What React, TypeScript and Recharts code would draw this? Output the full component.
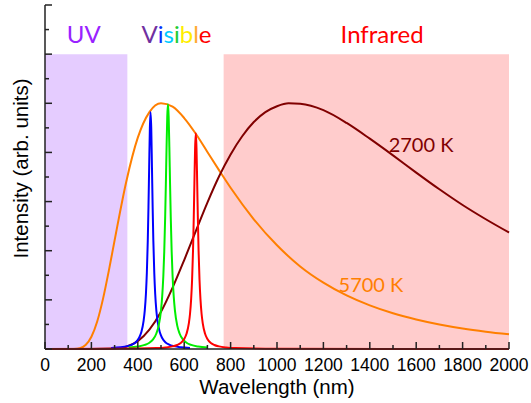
import React from 'react';
import { LineChart, Line, XAxis, YAxis, ReferenceArea, ReferenceDot } from 'recharts';

// ---- data ----
const wl5700 = [0, 100, 125, 150, 175, 200, 225, 250, 275, 300, 350, 400, 450, 500, 550, 600, 650, 700, 750, 800, 900, 1000, 1100, 1200, 1300, 1400, 1500, 1600, 1700, 1800, 1900, 2000];
const int5700 = [0, 0, 0.002, 0.016, 0.08, 0.25, 0.56, 1.02, 1.59, 2.21, 3.4, 4.3, 4.82, 5.0, 4.93, 4.7, 4.38, 4.01, 3.64, 3.28, 2.64, 2.11, 1.68, 1.35, 1.09, 0.887, 0.726, 0.6, 0.499, 0.417, 0.352, 0.298];

const wl2700 = [0, 200, 300, 350, 400, 450, 500, 550, 600, 650, 700, 750, 800, 850, 900, 950, 1000, 1050, 1100, 1200, 1300, 1400, 1500, 1600, 1700, 1800, 1900, 2000];
const int2700 = [0, 0, 0.008, 0.047, 0.16, 0.395, 0.76, 1.25, 1.81, 2.4, 2.98, 3.51, 3.96, 4.33, 4.62, 4.82, 4.94, 5.0, 4.99, 4.86, 4.6, 4.28, 3.94, 3.59, 3.25, 2.93, 2.64, 2.37];

const wlBlue = [285, 325, 355, 375, 390, 405, 415, 425, 430, 435, 439, 443, 446, 449, 452, 455, 458, 461, 464, 467, 471, 475, 480, 485, 495, 505, 520, 535, 555, 585, 625];
const intBlue = [0.02, 0.034, 0.058, 0.089, 0.134, 0.223, 0.339, 0.571, 0.78, 1.12, 1.55, 2.2, 2.89, 3.71, 4.49, 4.82, 4.49, 3.71, 2.89, 2.2, 1.55, 1.12, 0.78, 0.571, 0.339, 0.223, 0.134, 0.089, 0.058, 0.034, 0.02];

const wlGreen = [360, 400, 430, 450, 465, 480, 490, 500, 505, 510, 514, 518, 521, 524, 527, 530, 533, 536, 539, 542, 546, 550, 555, 560, 570, 580, 595, 610, 630, 660, 700];
const intGreen = [0.029, 0.049, 0.083, 0.128, 0.192, 0.315, 0.476, 0.787, 1.06, 1.48, 1.98, 2.69, 3.37, 4.11, 4.73, 4.98, 4.73, 4.11, 3.37, 2.69, 1.98, 1.48, 1.06, 0.787, 0.476, 0.315, 0.192, 0.128, 0.083, 0.049, 0.029];

const wlRed = [0, 300, 480, 520, 550, 570, 585, 600, 610, 620, 625, 630, 634, 638, 641, 644, 647, 650, 653, 656, 659, 662, 666, 670, 675, 680, 690, 700, 715, 730, 750, 780, 820, 1000, 2000];
const intRed = [0, 0.004, 0.018, 0.031, 0.053, 0.081, 0.122, 0.203, 0.309, 0.52, 0.712, 1.02, 1.41, 2.0, 2.63, 3.38, 4.09, 4.39, 4.09, 3.38, 2.63, 2.0, 1.41, 1.02, 0.712, 0.52, 0.309, 0.203, 0.122, 0.081, 0.053, 0.031, 0.018, 0.004, 0];

const uvRange = [0, 355];
const irRange = [770, 2000];
const bandTop = 6;

const xTicks = Array.from({ length: 21 }, (_, i) => i * 100);
const yTicks = Array.from({ length: 15 }, (_, i) => i * 0.5);

const zip = (xs: number[], ys: number[]) => xs.map((x, i) => ({ x, y: ys[i] }));

const AX = '#222';
const LABEL_FONT = 'Lato, "Open Sans", sans-serif';
const AXIS_FONT = '"Liberation Sans", Arial, sans-serif';

const BottomTick = (p: any) => {
  const v = p.payload.value;
  const major = v % 200 === 0;
  return (
    <g>
      <line x1={p.x} x2={p.x} y1={p.y} y2={p.y - (major ? 7 : 4)} stroke={AX} strokeWidth={1.5} />
      {major && (
        <text x={p.x} y={p.y + 21.7} textAnchor="middle" fontFamily={AXIS_FONT} fontSize={17.5} fill="#000">
          {v}
        </text>
      )}
    </g>
  );
};
const TopTick = (p: any) => {
  const v = p.payload.value;
  const major = v % 200 === 0;
  return <line x1={p.x} x2={p.x} y1={p.y} y2={p.y + (major ? 7 : 4)} stroke={AX} strokeWidth={1.5} />;
};
const LeftTick = (p: any) => {
  const v = p.payload.value;
  const major = Math.abs(v - Math.round(v)) < 1e-6;
  return <line x1={p.x} x2={p.x + (major ? 7 : 4)} y1={p.y} y2={p.y} stroke={AX} strokeWidth={1.5} />;
};
const RightTick = (p: any) => {
  const v = p.payload.value;
  const major = Math.abs(v - Math.round(v)) < 1e-6;
  return <line x1={p.x} x2={p.x - (major ? 7 : 4)} y1={p.y} y2={p.y} stroke={AX} strokeWidth={1.5} />;
};

const textShape = (content: React.ReactNode, color: string, size: number) => (p: any) => (
  <text x={p.cx} y={p.cy} textAnchor="middle" fontFamily={LABEL_FONT} fontSize={size} fill={color}>
    {content}
  </text>
);

const visibleText = (
  <>
    <tspan fill="#7030a0">V</tspan>
    <tspan fill="#0033ff">i</tspan>
    <tspan fill="#00ccff">s</tspan>
    <tspan fill="#22cc33">i</tspan>
    <tspan fill="#ffee00">b</tspan>
    <tspan fill="#ffaa33">l</tspan>
    <tspan fill="#ff0000">e</tspan>
  </>
);

export default function App() {
  return (
    <div style={{ position: 'absolute', left: 0, top: 0, background: '#fff' }}>
      <LineChart width={531} height={403} margin={{ top: 5, right: 22, bottom: 0, left: 0 }}>
        <ReferenceArea x1={uvRange[0]} x2={uvRange[1]} y1={0} y2={bandTop} fill="#e5ccff" fillOpacity={1} stroke="none" />
        <ReferenceArea x1={irRange[0]} x2={irRange[1]} y1={0} y2={bandTop} fill="#ffcccc" fillOpacity={1} stroke="none" />
        <XAxis
          dataKey="x"
          type="number"
          domain={[0, 2000]}
          ticks={xTicks}
          interval={0}
          height={54}
          tickSize={0}
          tickMargin={0}
          tickLine={false}
          tick={BottomTick}
          axisLine={{ stroke: AX, strokeWidth: 1.5 }}
          label={{
            content: () => (
              <text x={277} y={394} textAnchor="middle" fontFamily={AXIS_FONT} fontSize={20.5} fill="#000">
                Wavelength (nm)
              </text>
            ),
          }}
        />
        <XAxis
          xAxisId="top"
          orientation="top"
          dataKey="x"
          type="number"
          domain={[0, 2000]}
          ticks={xTicks}
          interval={0}
          height={0}
          tickSize={0}
          tickMargin={0}
          tickLine={false}
          tick={TopTick}
          axisLine={{ stroke: AX, strokeWidth: 1.5 }}
        />
        <YAxis
          type="number"
          domain={[0, 7]}
          ticks={yTicks}
          interval={0}
          width={45}
          tickSize={0}
          tickMargin={0}
          tickLine={false}
          tick={LeftTick}
          axisLine={{ stroke: AX, strokeWidth: 1.5 }}
          label={{
            content: () => (
              <text
                x={27.5}
                y={168.5}
                transform="rotate(-90, 27.5, 168.5)"
                textAnchor="middle"
                fontFamily={AXIS_FONT}
                fontSize={20.5}
                fill="#000"
              >
                Intensity (arb. units)
              </text>
            ),
          }}
        />
        <YAxis
          yAxisId="right"
          orientation="right"
          type="number"
          domain={[0, 7]}
          ticks={yTicks}
          interval={0}
          width={0}
          tickSize={0}
          tickMargin={0}
          tickLine={false}
          tick={RightTick}
          axisLine={{ stroke: AX, strokeWidth: 1.5 }}
        />
        <Line data={zip(wl5700, int5700)} dataKey="y" type="monotone" stroke="#ff7f00" strokeWidth={2} dot={false} activeDot={false} isAnimationActive={false} />
        <Line data={zip(wl2700, int2700)} dataKey="y" type="monotone" stroke="#800000" strokeWidth={2} dot={false} activeDot={false} isAnimationActive={false} />
        <Line data={zip(wlBlue, intBlue)} dataKey="y" type="monotone" stroke="#0000ff" strokeWidth={2} dot={false} activeDot={false} isAnimationActive={false} />
        <Line data={zip(wlGreen, intGreen)} dataKey="y" type="monotone" stroke="#00ee00" strokeWidth={2} dot={false} activeDot={false} isAnimationActive={false} />
        <Line data={zip(wlRed, intRed)} dataKey="y" type="monotone" stroke="#ff0000" strokeWidth={2} dot={false} activeDot={false} isAnimationActive={false} />
        <ReferenceDot x={167} y={6.22} r={0} shape={textShape('UV', '#9922ff', 24)} />
        <ReferenceDot x={567} y={6.22} r={0} shape={textShape(visibleText, '#000', 24)} />
        <ReferenceDot x={1453} y={6.22} r={0} shape={textShape('Infrared', '#ff0000', 24)} />
        <ReferenceDot x={1621} y={4.015} r={0} shape={textShape('2700 K', '#800000', 20)} />
        <ReferenceDot x={1405} y={1.166} r={0} shape={textShape('5700 K', '#ff7f00', 20)} />
      </LineChart>
    </div>
  );
}
